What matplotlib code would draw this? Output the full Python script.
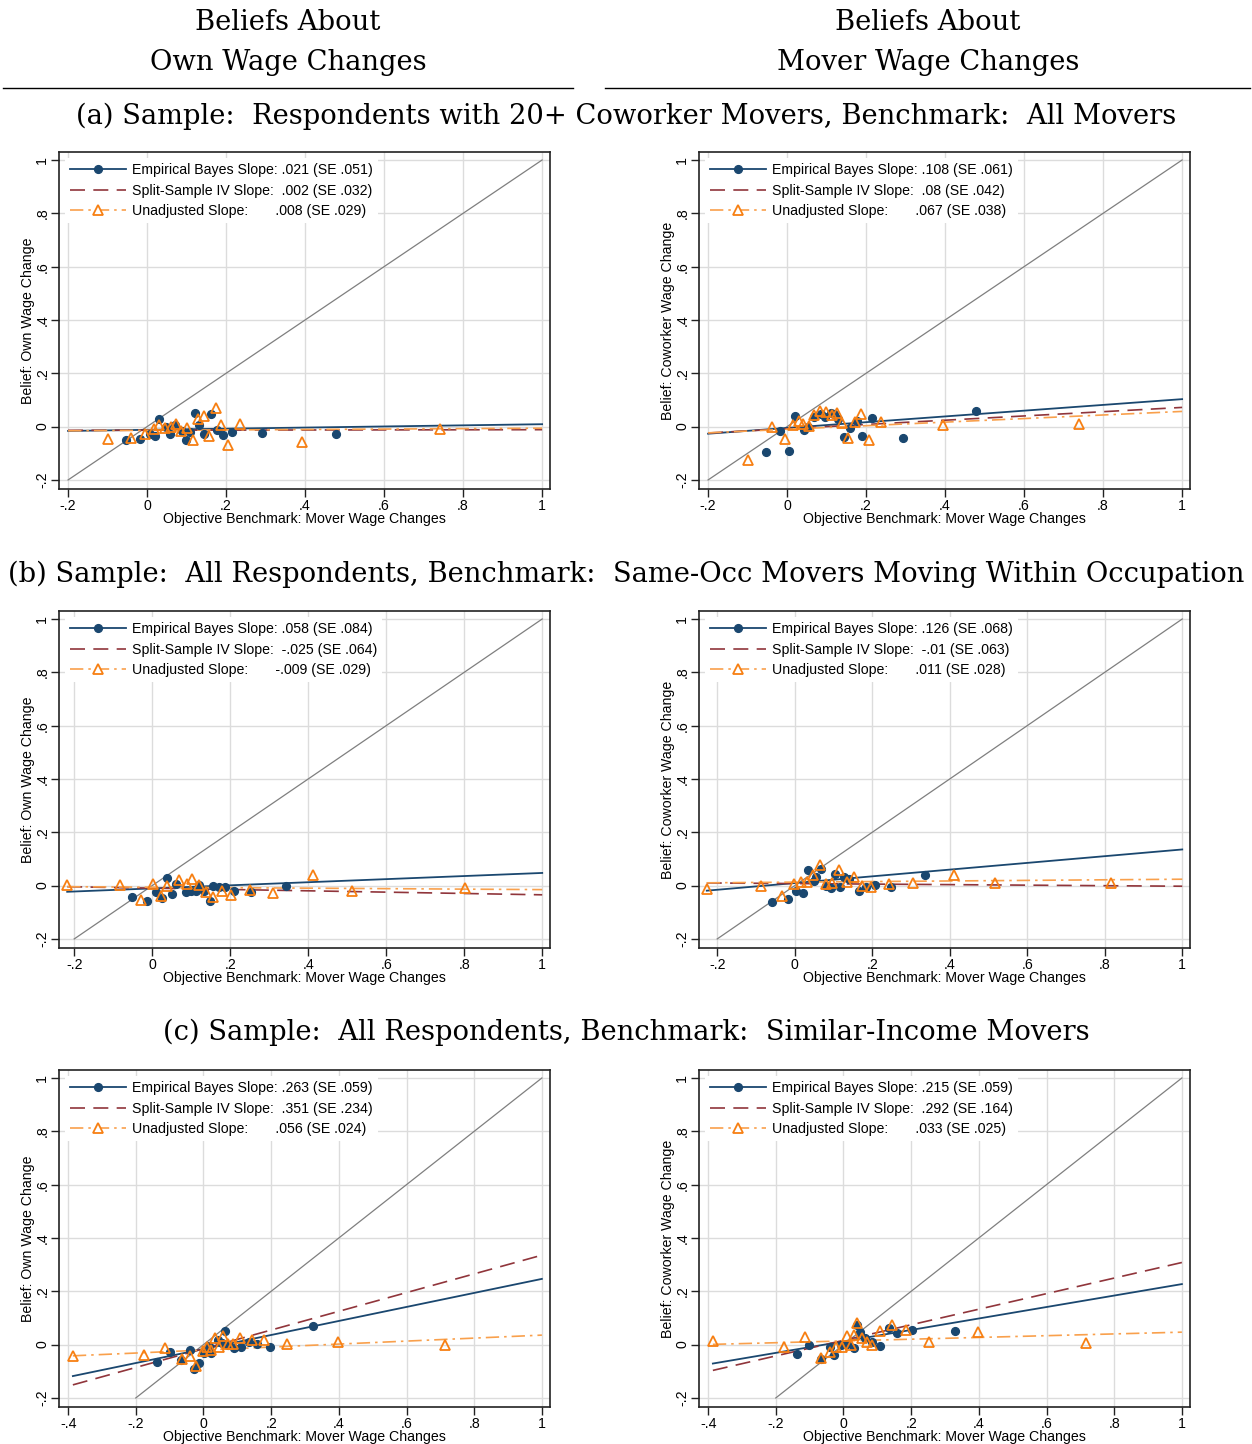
import matplotlib
matplotlib.use('Agg')
import matplotlib.pyplot as plt
from matplotlib.lines import Line2D
import numpy as np

plt.rcParams['font.family'] = ['Liberation Sans', 'DejaVu Sans']

NAVY = '#1a476f'
MAROON = '#90353b'
ORANGE = '#f77f12'
ORANGE_LINE = '#f9a04c'

# ---- panel (a): 20+ coworker movers, benchmark all movers
a_own_eb_x = [-0.054, -0.019, 0.008, 0.021, 0.031, 0.048, 0.058, 0.071, 0.088, 0.098,
              0.109, 0.122, 0.132, 0.145, 0.162, 0.176, 0.191, 0.214, 0.292, 0.478]
a_own_eb_y = [-0.049, -0.045, -0.026, -0.035, 0.030, 0.000, -0.026, 0.005, -0.017, -0.049,
              -0.020, 0.051, 0.005, -0.026, 0.046, -0.014, -0.032, -0.022, -0.024, -0.029]
a_own_un_x = [-0.100, -0.040, -0.005, 0.018, 0.029, 0.046, 0.060, 0.073, 0.086, 0.100,
              0.115, 0.128, 0.143, 0.157, 0.174, 0.187, 0.206, 0.236, 0.393, 0.742]
a_own_un_y = [-0.047, -0.041, -0.029, -0.010, 0.005, -0.005, -0.001, 0.009, -0.016, -0.005,
              -0.049, 0.027, 0.040, -0.035, 0.070, 0.007, -0.070, 0.011, -0.057, -0.010]
a_own_slope = [0.021, 0.002, 0.008]
a_own_icpt = [-0.012, -0.0135, -0.014]
a_own_txt = [('.021', '.051'), ('.002', '.032'), ('.008', '.029')]

a_mov_eb_x = [-0.053, -0.018, 0.004, 0.020, 0.044, 0.052, 0.069, 0.085, 0.097, 0.111,
              0.118, 0.128, 0.143, 0.160, 0.177, 0.190, 0.215, 0.293, 0.478]
a_mov_eb_y = [-0.094, -0.015, -0.091, 0.039, -0.014, -0.001, 0.036, 0.047, 0.037, 0.052,
              0.048, 0.028, -0.040, -0.007, 0.021, -0.036, 0.033, -0.042, 0.059]
a_mov_un_x = [-0.100, -0.039, -0.006, 0.014, 0.029, 0.040, 0.055, 0.069, 0.084, 0.099,
              0.113, 0.127, 0.139, 0.155, 0.173, 0.187, 0.208, 0.238, 0.394, 0.739]
a_mov_un_y = [-0.124, -0.001, -0.047, 0.005, 0.020, 0.009, 0.003, 0.042, 0.057, 0.055,
              0.042, 0.052, 0.015, -0.041, 0.018, 0.049, -0.049, 0.018, 0.007, 0.011]
a_mov_slope = [0.108, 0.08, 0.067]
a_mov_icpt = [-0.005, -0.008, -0.010]
a_mov_txt = [('.108', '.061'), ('.08', '.042'), ('.067', '.038')]

# ---- panel (b): all respondents, same-occ movers
b_own_eb_x = [-0.053, -0.014, 0.010, 0.026, 0.039, 0.052, 0.061, 0.087, 0.100, 0.112,
              0.119, 0.134, 0.147, 0.157, 0.170, 0.187, 0.211, 0.254, 0.344]
b_own_eb_y = [-0.044, -0.059, -0.023, -0.048, 0.029, -0.031, 0.006, -0.025, -0.019, -0.019,
              0.003, -0.021, -0.059, 0.000, -0.004, -0.006, -0.019, -0.023, -0.003]
b_own_un_x = [-0.218, -0.083, -0.029, 0.001, 0.022, 0.039, 0.069, 0.089, 0.101, 0.121,
              0.138, 0.157, 0.178, 0.201, 0.251, 0.311, 0.412, 0.513, 0.802]
b_own_un_y = [0.003, 0.004, -0.054, 0.006, -0.038, 0.000, 0.021, 0.006, 0.025, 0.004,
              -0.025, -0.042, -0.019, -0.036, -0.017, -0.029, 0.040, -0.019, -0.008]
b_own_slope = [0.058, -0.025, -0.009]
b_own_icpt = [-0.0105, -0.0095, -0.006]
b_own_txt = [('.058', '.084'), ('-.025', '.064'), ('-.009', '.029')]

b_mov_eb_x = [-0.058, -0.017, 0.004, 0.022, 0.033, 0.049, 0.056, 0.069, 0.080, 0.093,
              0.104, 0.117, 0.127, 0.141, 0.167, 0.183, 0.207, 0.248, 0.337]
b_mov_eb_y = [-0.063, -0.050, -0.019, -0.028, 0.060, 0.019, 0.031, 0.063, 0.000, -0.009,
              0.044, -0.006, 0.034, 0.025, -0.019, -0.004, 0.003, -0.006, 0.040]
b_mov_un_x = [-0.227, -0.088, -0.033, -0.003, 0.017, 0.032, 0.047, 0.065, 0.082, 0.095,
              0.114, 0.134, 0.153, 0.173, 0.197, 0.244, 0.305, 0.412, 0.518, 0.816]
b_mov_un_y = [-0.013, -0.003, -0.038, 0.006, 0.012, 0.012, 0.038, 0.079, 0.006, 0.010,
              0.057, 0.015, 0.034, 0.000, -0.006, 0.006, 0.009, 0.040, 0.010, 0.010]
b_mov_slope = [0.126, -0.010, 0.011]
b_mov_icpt = [0.0096, 0.0077, 0.013]
b_mov_txt = [('.126', '.068'), ('-.01', '.063'), ('.011', '.028')]

# ---- panel (c): all respondents, similar-income movers
c_own_eb_x = [-0.138, -0.100, -0.066, -0.041, -0.027, -0.014, 0.001, 0.015, 0.023, 0.042,
              0.055, 0.064, 0.072, 0.089, 0.111, 0.134, 0.158, 0.198, 0.323]
c_own_eb_y = [-0.064, -0.027, -0.058, -0.021, -0.092, -0.068, -0.031, -0.006, -0.031, 0.017,
              0.007, 0.050, -0.002, -0.014, -0.010, 0.008, 0.004, -0.008, 0.070]
c_own_un_x = [-0.386, -0.176, -0.113, -0.063, -0.039, -0.022, -0.002, 0.011, 0.023, 0.035,
              0.047, 0.057, 0.072, 0.087, 0.109, 0.143, 0.180, 0.246, 0.397, 0.715]
c_own_un_y = [-0.042, -0.039, -0.014, -0.054, -0.042, -0.080, -0.024, -0.010, -0.021, 0.023,
              -0.008, 0.032, 0.001, 0.002, 0.025, 0.017, 0.017, 0.002, 0.008, 0.000]
c_own_slope = [0.263, 0.351, 0.056]
c_own_icpt = [-0.0165, -0.0155, -0.0204]
c_own_txt = [('.263', '.059'), ('.351', '.234'), ('.056', '.024')]

c_mov_eb_x = [-0.137, -0.103, -0.066, -0.041, -0.027, -0.007, 0.009, 0.031, 0.041, 0.050,
              0.065, 0.085, 0.107, 0.134, 0.159, 0.203, 0.331]
c_mov_eb_y = [-0.036, -0.002, -0.055, -0.008, -0.039, -0.002, 0.001, -0.014, 0.073, 0.048,
              0.023, 0.010, -0.004, 0.064, 0.044, 0.054, 0.050]
c_mov_un_x = [-0.386, -0.175, -0.115, -0.066, -0.040, -0.022, -0.004, 0.011, 0.021, 0.031,
              0.041, 0.055, 0.070, 0.083, 0.109, 0.144, 0.185, 0.252, 0.397, 0.716]
c_mov_un_y = [0.013, -0.010, 0.027, -0.049, -0.029, -0.008, -0.010, 0.032, -0.002, 0.036,
              0.081, 0.023, 0.010, -0.002, 0.052, 0.073, 0.054, 0.008, 0.046, 0.005]
c_mov_slope = [0.215, 0.292, 0.033]
c_mov_icpt = [0.012, 0.016, 0.0137]
c_mov_txt = [('.215', '.059'), ('.292', '.164'), ('.033', '.025')]

xticks_ab = [-0.2, 0, 0.2, 0.4, 0.6, 0.8, 1]
xlabels_ab = ['-.2', '0', '.2', '.4', '.6', '.8', '1']
xticks_c = [-0.4, -0.2, 0, 0.2, 0.4, 0.6, 0.8, 1]
xlabels_c = ['-.4', '-.2', '0', '.2', '.4', '.6', '.8', '1']
yticks = [-0.2, 0, 0.2, 0.4, 0.6, 0.8, 1]
ylabels = ['-.2', '0', '.2', '.4', '.6', '.8', '1']

W, H = 1252, 1444
FS = 10.2


def panel(ax, eb_x, eb_y, un_x, un_y, slope, icpt, txt, x_lo, xlim, xticks, xlabels, ylab):
    ax.grid(True, color='#dcdcdc', lw=1.0)
    ax.set_axisbelow(True)
    # 45 degree line
    ax.plot([-0.2, 1], [-0.2, 1], color='#7f7f7f', lw=0.9, zorder=2)
    xs = np.array([x_lo, 1.0])
    ax.plot(xs, icpt[0] + slope[0] * xs, color=NAVY, lw=1.3, zorder=3)
    ax.plot(xs, icpt[1] + slope[1] * xs, color=MAROON, lw=1.2, dashes=(9, 5), zorder=3)
    ax.plot(xs, icpt[2] + slope[2] * xs, color=ORANGE_LINE, lw=1.2, dashes=(8, 3, 1.5, 3), zorder=3)
    ax.plot(eb_x, eb_y, 'o', ms=5.6, color=NAVY, zorder=4)
    ax.plot(un_x, un_y, '^', ms=6.6, mfc='none', mec=ORANGE, mew=1.3, zorder=5)

    ax.set_xlim(xlim)
    ax.set_ylim(-0.234, 1.03)
    ax.set_xticks(xticks)
    ax.set_xticklabels(xlabels, fontsize=FS)
    ax.set_yticks(yticks)
    ax.set_yticklabels(ylabels, fontsize=FS, rotation=90, va='center')
    ax.tick_params(length=6, width=1, color='#222222', pad=1)
    for s in ax.spines.values():
        s.set_color('#222222')
        s.set_linewidth(1.2)
    ax.set_xlabel('Objective Benchmark: Mover Wage Changes', fontsize=FS, labelpad=-0.5)
    ax.set_ylabel(ylab, fontsize=FS, labelpad=0)

    h_eb = Line2D([], [], color=NAVY, lw=1.3, marker='o', ms=5.6)
    h_iv = Line2D([], [], color=MAROON, lw=1.2, dashes=(9, 5))
    h_un = Line2D([], [], color=ORANGE_LINE, lw=1.2, dashes=(8, 3, 1.5, 3),
                  marker='^', ms=6.6, mfc='white', mec=ORANGE, mew=1.3)
    labels = ['Empirical Bayes Slope: %s (SE %s)' % txt[0],
              'Split-Sample IV Slope:  %s (SE %s)' % txt[1],
              'Unadjusted Slope:       %s (SE %s)' % txt[2]]
    leg = ax.legend([h_eb, h_iv, h_un], labels, loc='upper left', fontsize=FS,
                    frameon=True, fancybox=False, framealpha=1, edgecolor='none',
                    facecolor='white', handlelength=3.9, handletextpad=0.45,
                    labelspacing=0.45, borderpad=0.35, borderaxespad=0.45)
    leg.set_zorder(10)


fig = plt.figure(figsize=(W / 100, H / 100), dpi=100)

left_x = [59 / W, 699 / W]
pw, ph = 491 / W, 337 / H
rows_bottom = [(H - 489) / H, (H - 948) / H, (H - 1407) / H]

ax = fig.add_axes([left_x[0], rows_bottom[0], pw, ph])
panel(ax, a_own_eb_x, a_own_eb_y, a_own_un_x, a_own_un_y, a_own_slope, a_own_icpt, a_own_txt,
      -0.2, (-0.223, 1.02), xticks_ab, xlabels_ab, 'Belief: Own Wage Change')
ax = fig.add_axes([left_x[1], rows_bottom[0], pw, ph])
panel(ax, a_mov_eb_x, a_mov_eb_y, a_mov_un_x, a_mov_un_y, a_mov_slope, a_mov_icpt, a_mov_txt,
      -0.2, (-0.223, 1.02), xticks_ab, xlabels_ab, 'Belief: Coworker Wage Change')

ax = fig.add_axes([left_x[0], rows_bottom[1], pw, ph])
panel(ax, b_own_eb_x, b_own_eb_y, b_own_un_x, b_own_un_y, b_own_slope, b_own_icpt, b_own_txt,
      -0.218, (-0.239, 1.02), xticks_ab, xlabels_ab, 'Belief: Own Wage Change')
ax = fig.add_axes([left_x[1], rows_bottom[1], pw, ph])
panel(ax, b_mov_eb_x, b_mov_eb_y, b_mov_un_x, b_mov_un_y, b_mov_slope, b_mov_icpt, b_mov_txt,
      -0.227, (-0.247, 1.02), xticks_ab, xlabels_ab, 'Belief: Coworker Wage Change')

ax = fig.add_axes([left_x[0], rows_bottom[2], pw, ph])
panel(ax, c_own_eb_x, c_own_eb_y, c_own_un_x, c_own_un_y, c_own_slope, c_own_icpt, c_own_txt,
      -0.386, (-0.427, 1.024), xticks_c, xlabels_c, 'Belief: Own Wage Change')
ax = fig.add_axes([left_x[1], rows_bottom[2], pw, ph])
panel(ax, c_mov_eb_x, c_mov_eb_y, c_mov_un_x, c_mov_un_y, c_mov_slope, c_mov_icpt, c_mov_txt,
      -0.386, (-0.427, 1.024), xticks_c, xlabels_c, 'Belief: Coworker Wage Change')

# headers
serif = ['DejaVu Serif']
HFS = 19.7
fig.text(288 / W, 1 - 22 / H, 'Beliefs About', ha='center', va='center', fontsize=HFS, family=serif)
fig.text(288 / W, 1 - 62 / H, 'Own Wage Changes', ha='center', va='center', fontsize=HFS, family=serif)
fig.text(928 / W, 1 - 22 / H, 'Beliefs About', ha='center', va='center', fontsize=HFS, family=serif)
fig.text(928 / W, 1 - 62 / H, 'Mover Wage Changes', ha='center', va='center', fontsize=HFS, family=serif)
fig.add_artist(Line2D([3 / W, 573 / W], [1 - 88 / H] * 2, color='black', lw=1))
fig.add_artist(Line2D([605 / W, 1250 / W], [1 - 88 / H] * 2, color='black', lw=1))

fig.text(0.5, 1 - 116 / H, '(a) Sample:  Respondents with 20+ Coworker Movers, Benchmark:  All Movers',
         ha='center', va='center', fontsize=HFS, family=serif)
fig.text(0.5, 1 - 574 / H,
         '(b) Sample:  All Respondents, Benchmark:  Same-Occ Movers Moving Within Occupation',
         ha='center', va='center', fontsize=HFS, family=serif)
fig.text(0.5, 1 - 1032 / H, '(c) Sample:  All Respondents, Benchmark:  Similar-Income Movers',
         ha='center', va='center', fontsize=HFS, family=serif)

fig.savefig('out.png', dpi=100)
